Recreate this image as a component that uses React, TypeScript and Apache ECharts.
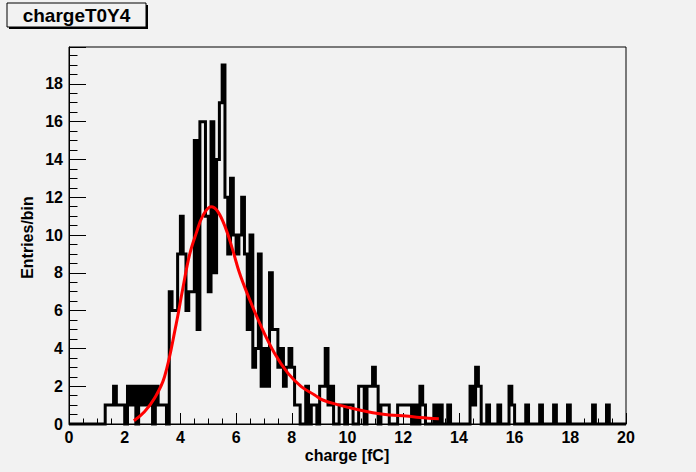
import React, { useEffect, useRef } from "react";
import * as echarts from "echarts";

// Histogram: 200 bins of width 0.1 from 0 to 20 (counts per bin)
const binLow = 0;
const binWidth = 0.1;
const counts: number[] = [
  0, 0, 0, 0, 0, 0, 0, 0, 0, 0,
  0, 0, 0, 1, 1, 1, 2, 1, 1, 1,
  0, 2, 1, 2, 0, 2, 1, 2, 1, 2,
  0, 2, 1, 1, 1, 0, 7, 6, 6, 9,
  11, 9, 6, 7, 7, 15, 5, 16, 16, 11,
  7, 16, 8, 14, 17, 19, 12, 9, 13, 10,
  9, 10, 12, 9, 5, 10, 3, 4, 9, 2,
  4, 2, 8, 5, 5, 3, 4, 2, 3, 4,
  3, 1, 1, 0, 0, 2, 0, 1, 1, 0,
  2, 2, 4, 1, 2, 0, 0, 1, 1, 0,
  1, 1, 0, 0, 2, 2, 0, 2, 2, 3,
  2, 0, 1, 1, 1, 0, 0, 0, 1, 1,
  1, 1, 1, 0, 1, 0, 2, 1, 0, 0,
  0, 1, 0, 1, 0, 0, 1, 0, 0, 0,
  0, 0, 0, 0, 2, 1, 3, 2, 0, 0,
  1, 0, 0, 0, 1, 0, 0, 0, 2, 1,
  0, 0, 0, 0, 1, 0, 0, 0, 0, 1,
  0, 0, 0, 0, 1, 0, 0, 0, 0, 1,
  0, 0, 0, 0, 0, 0, 0, 0, 1, 0,
  0, 0, 0, 1, 0, 0, 0, 0, 0, 0,
];

// Fit curve points
const fitX: number[] = [
  2.33, 2.71, 3.07, 3.43, 3.85, 4.09, 4.33, 4.57, 4.8, 5.1, 5.34, 5.64, 5.88,
  6.12, 6.4, 6.9, 7.38, 7.86, 8.34, 8.82, 9.11, 9.71, 10.31, 10.91, 11.5, 12.1,
  12.6, 13.28,
];
const fitY: number[] = [
  0.17, 0.65, 1.36, 2.5, 5.3, 7.2, 8.96, 10.1, 11.0, 11.5, 11.25, 10.3, 9.2,
  8.0, 6.9, 5.16, 3.75, 2.69, 1.98, 1.54, 1.27, 1.0, 0.78, 0.6, 0.48, 0.42,
  0.35, 0.28,
];

const xTickValues: number[] = [0, 2, 4, 6, 8, 10, 12, 14, 16, 18, 20];
const yTickValues: number[] = [0, 2, 4, 6, 8, 10, 12, 14, 16, 18];

const title = "chargeT0Y4";
const xTitle = "charge [fC]";
const yTitle = "Entries/bin";

const FONT = "'Liberation Sans', Arial, Helvetica, sans-serif";

export default function App() {
  const ref = useRef<HTMLDivElement>(null);

  useEffect(() => {
    document.body.style.margin = "0";
    if (!ref.current) return;
    const chart = echarts.init(ref.current, undefined, { renderer: "svg" });

    const histData: number[][] = counts.map((c, i) => [binLow + i * binWidth, c]);
    histData.push([binLow + counts.length * binWidth, counts[counts.length - 1]]);
    const fitData: number[][] = fitX.map((x, i) => [x, fitY[i]]);

    const labelStyle = {
      color: "#000",
      fontFamily: FONT,
      fontWeight: "bold" as const,
      fontSize: 16,
    };

    chart.setOption({
      animation: false,
      backgroundColor: "#f2f2f2",
      grid: {
        left: 69,
        right: 70,
        top: 47,
        bottom: 48,
        show: true,
        borderColor: "#000",
        borderWidth: 1,
        backgroundColor: "transparent",
      },
      xAxis: {
        type: "value",
        min: 0,
        max: 20,
        interval: 2,
        axisLine: { show: true, lineStyle: { color: "#000", width: 1 } },
        axisTick: { show: true, inside: true, length: 11, lineStyle: { color: "#000", width: 1 } },
        minorTick: { show: true, splitNumber: 4, length: 5.5, lineStyle: { color: "#000", width: 1 } },
        splitLine: { show: false },
        axisLabel: {
          ...labelStyle,
          margin: 5,
          formatter: (v: number) => (xTickValues.includes(v) ? String(v) : ""),
        },
      },
      yAxis: {
        type: "value",
        min: 0,
        max: 19.95,
        interval: 2,
        axisLine: { show: true, lineStyle: { color: "#000", width: 1 } },
        axisTick: { show: true, inside: true, length: 17, lineStyle: { color: "#000", width: 1 } },
        minorTick: { show: true, splitNumber: 4, length: 8.5, lineStyle: { color: "#000", width: 1 } },
        splitLine: { show: false },
        axisLabel: {
          ...labelStyle,
          margin: 6,
          showMaxLabel: false,
          formatter: (v: number) => (yTickValues.includes(v) ? String(v) : ""),
        },
      },
      series: [
        {
          type: "line",
          step: "end",
          data: histData,
          symbol: "none",
          clip: false,
          lineStyle: { color: "#000", width: 3, join: "miter" },
          z: 2,
        },
        {
          type: "line",
          smooth: 0.4,
          data: fitData,
          symbol: "none",
          lineStyle: { color: "#ff0000", width: 3 },
          z: 3,
        },
      ],
      graphic: [
        { type: "rect", shape: { x: 9, y: 5, width: 139, height: 24 }, style: { fill: "#000" }, z: 10 },
        { type: "rect", shape: { x: 7, y: 3, width: 139, height: 24 }, style: { fill: "#f2f2f2", stroke: "#000", lineWidth: 1 }, z: 11 },
        {
          type: "text",
          x: 76.5,
          y: 15,
          style: { text: title, fill: "#000", font: `bold 19px ${FONT}`, align: "center", verticalAlign: "middle" },
          z: 12,
        },
        {
          type: "text",
          x: 347,
          y: 455,
          style: { text: xTitle, fill: "#000", font: `bold 16px ${FONT}`, align: "center", verticalAlign: "middle" },
          z: 12,
        },
        {
          type: "text",
          x: 27.5,
          y: 237.5,
          rotation: Math.PI / 2,
          style: { text: yTitle, fill: "#000", font: `bold 16px ${FONT}`, align: "center", verticalAlign: "middle" },
          z: 12,
        },
      ],
    });

    return () => chart.dispose();
  }, []);

  return <div ref={ref} style={{ width: 696, height: 472 }} />;
}
